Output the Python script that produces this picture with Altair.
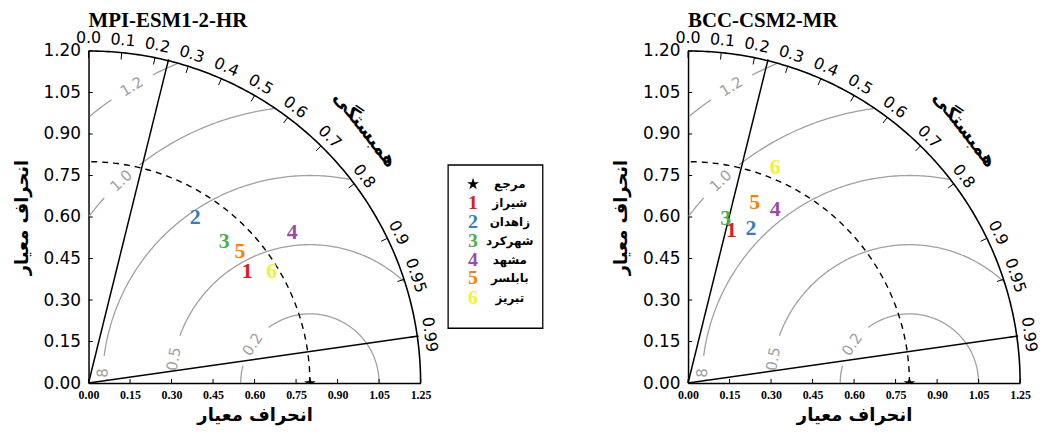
import altair as alt
import numpy as np
import pandas as pd

# ---------------- data ----------------
model_titles = ["MPI-ESM1-2-HR", "BCC-CSM2-MR"]
station_ids = ["1", "2", "3", "4", "5", "6"]
station_names = ["شیراز", "زاهدان", "شهرکرد", "مشهد", "بابلسر", "تبریز"]
station_colors = ["#e41a1c", "#377eb8", "#4daf4a", "#984ea3", "#ff7f00", "#f2f230"]
ref_name = "مرجع"
ref_std = 0.8

std_mpi = [0.701, 0.714, 0.710, 0.915, 0.725, 0.775]
corr_mpi = [0.818, 0.540, 0.690, 0.804, 0.755, 0.854]
std_bcc = [0.575, 0.604, 0.611, 0.703, 0.698, 0.842]
corr_bcc = [0.273, 0.376, 0.223, 0.448, 0.345, 0.374]

corr_ticks = [0.0, 0.1, 0.2, 0.3, 0.4, 0.5, 0.6, 0.7, 0.8, 0.9, 0.95, 0.99]
corr_tick_labels = ["0.0", "0.1", "0.2", "0.3", "0.4", "0.5", "0.6", "0.7", "0.8", "0.9", "0.95", "0.99"]
std_ticks = [0.0, 0.15, 0.30, 0.45, 0.60, 0.75, 0.90, 1.05, 1.20]
x_tick_labels = ["0.00", "0.15", "0.30", "0.45", "0.60", "0.75", "0.90", "1.05", "1.25"]
rms_levels = [0.25, 0.50, 0.75, 1.00, 1.25]
rms_labels = ["0.2", "0.5", "0.8", "1.0", "1.2"]
rms_label_pos_deg = [146, 170, 179.2, 133, 121]
corr_lines = [0.24, 0.99]
std_max = 1.2
axis_title = "انحراف معیار"
corr_title = "همبستگی"

# legend rows placed to the left of the right panel (in that panel's data units)
leg_row_y = [0.719, 0.651, 0.583, 0.514, 0.446, 0.378, 0.309]
leg_sym_x = -0.777
leg_txt_x = -0.644
leg_box = {"x": -0.867, "xe": -0.525, "y": 0.788, "ye": 0.198}

PW = 334
GRAY = "#a0a0a0"

# five-pointed star as a custom symbol path
_pts = []
for k in range(10):
    ang = np.radians(-90 + 36 * k)
    rr = 1.0 if k % 2 == 0 else 0.382
    _pts.append("%.4f,%.4f" % (rr * np.cos(ang), rr * np.sin(ang)))
STAR = "M" + "L".join(_pts) + "Z"

# ---------------- geometry tables ----------------
rows, rlabs = [], []
seg = 0
for lev, txt, pdeg in zip(rms_levels, rms_labels, rms_label_pos_deg):
    gap = np.degrees(0.085 / lev)
    cur, segs = [], []
    for p in np.arange(0, 180.001, 0.5):
        r = np.radians(p)
        x = ref_std + lev * np.cos(r)
        y = lev * np.sin(r)
        ok = x >= 0 and y >= 0 and x * x + y * y <= std_max ** 2 and abs(p - pdeg) > gap
        if ok:
            cur.append((round(float(x), 4), round(float(y), 4)))
        elif cur:
            segs.append(cur)
            cur = []
    if cur:
        segs.append(cur)
    for s in segs:
        if len(s) < 7:
            continue
        for i, (x, y) in enumerate(s):
            rows.append({"x": x, "y": y, "seg": seg, "i": i})
        seg += 1
    r = np.radians(pdeg)
    rlabs.append({"x": round(float(ref_std + lev * np.cos(r)), 4), "y": round(float(lev * np.sin(r)), 4),
                  "t": txt, "a": round(float((90 - pdeg) % 360), 2)})
rms_df = pd.DataFrame(rows)
rms_lab_df = pd.DataFrame(rlabs[:2] + rlabs[3:])
rms_lab_clip_df = pd.DataFrame([rlabs[2]])

arc_rows = []
for k in np.arange(0, 90.001, 0.5):
    t = np.radians(k)
    arc_rows.append({"x": round(float(std_max * np.cos(t)), 4), "y": round(float(std_max * np.sin(t)), 4),
                     "seg": 0, "i": float(k)})
    arc_rows.append({"x": round(float(ref_std * np.cos(t)), 4), "y": round(float(ref_std * np.sin(t)), 4),
                     "seg": 1, "i": float(k)})
arc_df = pd.DataFrame(arc_rows)
outer_df = arc_df[arc_df.seg == 0]
ref_arc_df = arc_df[arc_df.seg == 1]

cl_df = pd.DataFrame({"x": [0.0] * len(corr_lines), "y": [0.0] * len(corr_lines),
                      "xe": [round(1.205 * c, 4) for c in corr_lines],
                      "ye": [round(1.205 * float(np.sqrt(1 - c * c)), 4) for c in corr_lines]})
tick_rows = []
for c in corr_ticks:
    s_ = float(np.sqrt(1 - c * c))
    tick_rows.append({"x": round(std_max * c, 4), "y": round(std_max * s_, 4),
                      "xe": round(1.175 * c, 4), "ye": round(1.175 * s_, 4)})
for v in std_ticks:
    tick_rows.append({"x": v, "y": 0.0, "xe": v, "ye": 0.015})
    tick_rows.append({"x": 0.0, "y": v, "xe": 0.015, "ye": v})
tick_df = pd.DataFrame(tick_rows)

clab_df = pd.DataFrame([{"x": round(1.245 * c, 4), "y": round(1.245 * float(np.sqrt(1 - c * c)), 4), "t": t,
                         "a": round(float(np.degrees(np.arcsin(c))), 2)}
                        for c, t in zip(corr_ticks, corr_tick_labels)])

# ---------------- helpers ----------------
sc = alt.Scale(domain=[0, std_max], nice=False, zero=False)


def chain(labels):
    expr = "'%s'" % labels[-1]
    for k in range(len(labels) - 2, -1, -1):
        expr = "datum.value < %.3f ? '%s' : (%s)" % (std_ticks[k] + 0.07, labels[k], expr)
    return expr


x_axis = alt.Axis(values=std_ticks, labelExpr=chain(x_tick_labels), title=axis_title, grid=False,
                  ticks=False, domainColor="black", domainWidth=1.5, labelFont="Liberation Serif",
                  labelFontWeight="bold", labelFontSize=12, labelColor="black", labelPadding=7,
                  labelFlush=False, titleFont="DejaVu Sans", titleFontSize=18, titleFontWeight="bold",
                  titleColor="black", titlePadding=6)
y_axis = alt.Axis(values=std_ticks, format=".2f", title=axis_title, grid=False, ticks=False,
                  domainColor="black", domainWidth=1.5, labelFont="DejaVu Sans", labelFontSize=17,
                  labelColor="black", labelPadding=8, labelFlush=False, titleFont="DejaVu Sans",
                  titleFontSize=18, titleFontWeight="bold", titleColor="black", titlePadding=12)


def X(f="x"):
    return alt.X(f, type="quantitative", scale=sc, axis=x_axis)


def Y(f="y"):
    return alt.Y(f, type="quantitative", scale=sc, axis=y_axis)


def panel(stds, corrs, title, with_legend=False):
    pts = pd.DataFrame({"x": [round(s * c, 4) for s, c in zip(stds, corrs)],
                        "y": [round(s * float(np.sqrt(1 - c * c)), 4) for s, c in zip(stds, corrs)],
                        "t": station_ids, "col": station_colors})
    layers = [
        alt.Chart(rms_df).mark_line(color=GRAY, strokeWidth=1.3).encode(
            x=X(), y=Y(), detail="seg:N", order="i:Q"),
        alt.Chart(rms_lab_df).mark_text(color=GRAY, font="DejaVu Sans", fontSize=15,
                                        baseline="middle", align="center").encode(
            x=X(), y=Y(), text="t:N", angle=alt.Angle("a:Q", scale=None)),
        alt.Chart(rms_lab_clip_df).mark_text(color=GRAY, font="DejaVu Sans", fontSize=15,
                                             baseline="middle", align="center", clip=True).encode(
            x=X(), y=Y(), text="t:N", angle=alt.Angle("a:Q", scale=None)),
        alt.Chart(ref_arc_df).mark_line(color="black", strokeWidth=1.4, strokeDash=[6, 5]).encode(
            x=X(), y=Y(), order="i:Q"),
        alt.Chart(outer_df).mark_line(color="black", strokeWidth=1.6).encode(
            x=X(), y=Y(), order="i:Q"),
        alt.Chart(cl_df).mark_rule(color="black", strokeWidth=1.5).encode(
            x=X(), y=Y(), x2="xe:Q", y2="ye:Q"),
        alt.Chart(tick_df).mark_rule(color="black", strokeWidth=1).encode(
            x=X(), y=Y(), x2="xe:Q", y2="ye:Q"),
        alt.Chart(clab_df).mark_text(color="black", font="DejaVu Sans", fontSize=16,
                                     baseline="middle", align="center").encode(
            x=X(), y=Y(), text="t:N", angle=alt.Angle("a:Q", scale=None)),
        alt.Chart(pd.DataFrame({"x": [1.0], "y": [0.917], "t": [corr_title]})).mark_text(
            angle=52, font="DejaVu Sans", fontSize=19, fontWeight="bold", color="black",
            baseline="middle", align="center").encode(x=X(), y=Y(), text="t:N"),
        alt.Chart(pd.DataFrame({"x": [ref_std], "y": [0.0]})).mark_point(
            shape=STAR, filled=True, color="black", size=150, opacity=1, clip=True).encode(x=X(), y=Y()),
        alt.Chart(pts).mark_text(font="Liberation Serif", fontSize=22, fontWeight="bold",
                                 baseline="middle", align="center").encode(
            x=X(), y=Y(), text="t:N", color=alt.Color("col:N", scale=None)),
    ]
    if with_legend:
        layers.append(alt.Chart(pd.DataFrame([leg_box])).mark_rect(
            fill="white", stroke="black", strokeWidth=1.3).encode(
            x=X(), y=Y(), x2="xe:Q", y2="ye:Q"))
        layers.append(alt.Chart(pd.DataFrame({"x": [leg_sym_x], "y": [leg_row_y[0]]})).mark_point(
            shape=STAR, filled=True, color="black", size=160, opacity=1).encode(x=X(), y=Y()))
        num_df = pd.DataFrame({"x": [leg_sym_x] * 6, "y": leg_row_y[1:], "t": station_ids,
                               "col": station_colors})
        layers.append(alt.Chart(num_df).mark_text(font="Liberation Serif", fontSize=20, fontWeight="bold",
                                                  baseline="middle", align="center").encode(
            x=X(), y=Y(), text="t:N", color=alt.Color("col:N", scale=None)))
        name_df = pd.DataFrame({"x": [leg_txt_x] * 7, "y": leg_row_y, "t": [ref_name] + station_names})
        layers.append(alt.Chart(name_df).mark_text(font="DejaVu Sans", fontSize=12, fontWeight="bold",
                                                   color="black", baseline="middle", align="center").encode(
            x=X(), y=Y(), text="t:N"))

    return alt.layer(*layers).properties(
        width=PW, height=PW,
        title=alt.TitleParams(text=title, anchor="start", frame="group", font="Liberation Serif",
                              fontSize=21, fontWeight="bold", color="black", offset=0))


left = panel(std_mpi, corr_mpi, model_titles[0])
right = panel(std_bcc, corr_bcc, model_titles[1], with_legend=True)

chart = alt.hconcat(left, right, spacing=7).properties(
    padding={"left": 5, "top": 0, "right": 0, "bottom": 5}
).configure_view(stroke=None)

chart.save("out.html", embed_options={"renderer": "svg", "actions": False})
